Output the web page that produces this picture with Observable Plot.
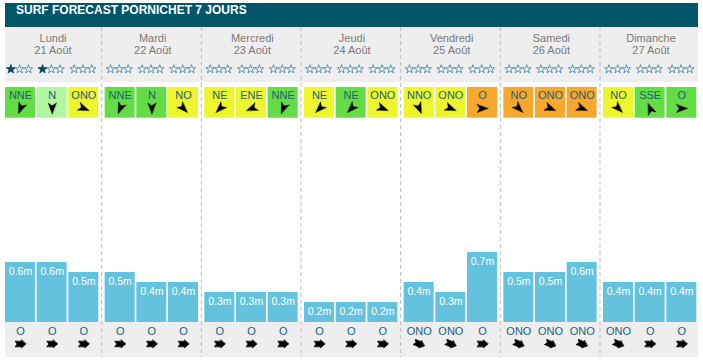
<!DOCTYPE html>
<html>
<head>
<meta charset="utf-8">
<script src="https://cdn.jsdelivr.net/npm/d3@7"></script>
<script src="https://cdn.jsdelivr.net/npm/@observablehq/plot@0.6"></script>
<style>
  html, body { margin: 0; padding: 0; background: #fff; }
  #title {
    margin: 3px 5px 0 5px; height: 24px; line-height: 24px;
    background: #03556b; color: #fff; padding-left: 11px;
    font: bold 12px "Liberation Sans", Arial, sans-serif;
  }
  #chart svg { display: block; }
</style>
</head>
<body>
<div id="title">SURF FORECAST PORNICHET 7 JOURS</div>
<div id="chart"></div>
<script>
const days = ["Lundi", "Mardi", "Mercredi", "Jeudi", "Vendredi", "Samedi", "Dimanche"];
const dates = ["21 Août", "22 Août", "23 Août", "24 Août", "25 Août", "26 Août", "27 Août"];
const starRatings = [1, 1, 0, 0, 0, 0, 0, 0, 0, 0, 0, 0, 0, 0, 0, 0, 0, 0, 0, 0, 0];
const windDirections = ["NNE", "N", "ONO", "NNE", "N", "NO", "NE", "ENE", "NNE", "NE", "NE", "ONO",
  "NNO", "ONO", "O", "NO", "ONO", "ONO", "NO", "SSE", "O"];
const windQuality = ["vert", "vertclair", "jaune", "vert", "vert", "jaune", "jaune", "jaune", "vert",
  "jaune", "vert", "jaune", "jaune", "jaune", "orange", "orange", "orange", "orange", "jaune", "vert", "vert"];
const waveHeights = [0.6, 0.6, 0.5, 0.5, 0.4, 0.4, 0.3, 0.3, 0.3, 0.2, 0.2, 0.2,
  0.4, 0.3, 0.7, 0.5, 0.5, 0.6, 0.4, 0.4, 0.4];
const swellDirections = ["O", "O", "O", "O", "O", "O", "O", "O", "O", "O", "O", "O",
  "ONO", "ONO", "O", "ONO", "ONO", "ONO", "ONO", "O", "O"];

const compass = ["N", "NNE", "NE", "ENE", "E", "ESE", "SE", "SSE", "S", "SSO", "SO", "OSO", "O", "ONO", "NO", "NNO"];
const deg = (c) => compass.indexOf(c) * 22.5;

const slots = waveHeights.map((h, i) => ({
  day: days[Math.floor(i / 3)],
  slot: i % 3,
  h,
  stars: starRatings[i],
  wind: windDirections[i],
  quality: windQuality[i],
  swell: swellDirections[i]
}));

const navArrow = {
  draw(ctx, l) {
    ctx.moveTo(0, -l);
    ctx.lineTo(0.37 * l, 0);
    ctx.lineTo(0, -0.25 * l);
    ctx.lineTo(-0.37 * l, 0);
    ctx.closePath();
  }
};
const swellArrow = {
  draw(ctx, l) {
    const hw = 0.36 * l, bw = 0.26 * l, hl = 0.42 * l, n = 0.18 * l;
    ctx.moveTo(0, -l);
    ctx.lineTo(hw, -l + hl);
    ctx.lineTo(bw, -l + hl);
    ctx.lineTo(bw, 0);
    ctx.lineTo(0, -n);
    ctx.lineTo(-bw, 0);
    ctx.lineTo(-bw, -l + hl);
    ctx.lineTo(-hw, -l + hl);
    ctx.closePath();
  }
};

const H = 335;
const xc = (d) => d.slot + 0.5;
const starOffsets = [-10.5, -1.7, 7.1];

const starMarks = [];
starOffsets.forEach((off, k) => {
  starMarks.push(Plot.dot(slots, { fx: "day", x: xc, frameAnchor: "top", dy: 41.7, dx: off, symbol: "star", r: 2.7, fill: "white", stroke: "#3a7c9c", strokeWidth: 0.8 }));
  starMarks.push(Plot.dot(slots.filter((d) => d.stars > k), { fx: "day", x: xc, frameAnchor: "top", dy: 41.7, dx: off, symbol: "star", r: 2.7, fill: "#0b4764", stroke: "#0b4764", strokeWidth: 0.8 }));
});

const chart = Plot.plot({
  width: 703,
  height: H,
  marginLeft: 5, marginRight: 5, marginTop: 0, marginBottom: 0,
  style: { fontFamily: "'Liberation Sans', Arial, sans-serif", background: "transparent" },
  fx: { domain: days, paddingInner: 0.0468, paddingOuter: 0, round: false, axis: null },
  x: { domain: [0, 3], axis: null },
  y: { domain: [0, 2.95], range: [295, 0], axis: null },
  color: { domain: ["vert", "vertclair", "jaune", "orange"], range: ["#63dc45", "#b0f7a0", "#edf52c", "#f6a82e"] },
  marks: [
    Plot.rect([null], { facet: "super", fill: "#eeeeee", insetBottom: H - 55 }),
    Plot.rect([null], { facet: "super", fill: "#eeeeee", insetTop: 295, insetBottom: 5 }),
    Plot.ruleX(days.slice(1), { fx: (d) => d, x: () => 0, dx: -3.5, stroke: "#bbbbbb", strokeDasharray: "4,3", insetBottom: 5 }),
    Plot.text(days, { fx: (d) => d, text: (d) => d, frameAnchor: "top", lineAnchor: "middle", dy: 10.8, fill: "#7a7a7a", fontSize: 11 }),
    Plot.text(dates, { fx: (d, i) => days[i], text: (d) => d, frameAnchor: "top", lineAnchor: "middle", dy: 23, fill: "#7a7a7a", fontSize: 11 }),
    ...starMarks,
    Plot.rect(slots, { fx: "day", x1: "slot", x2: (d) => d.slot + 1, insetRight: 1.67, insetTop: 60, insetBottom: H - 90.7, fill: "quality" }),
    Plot.text(slots, { fx: "day", x: xc, dx: -0.8, text: "wind", frameAnchor: "top", lineAnchor: "middle", dy: 68, fill: "#1d5f79", fontSize: 11 }),
    Plot.vector(slots, { fx: "day", x: xc, dx: -0.8, frameAnchor: "top", dy: 81, rotate: (d) => deg(d.wind) + 180, length: 11, anchor: "middle", shape: navArrow, fill: "black", stroke: "black", strokeWidth: 0.4 }),
    Plot.rectY(slots, { fx: "day", x1: "slot", x2: (d) => d.slot + 1, y: "h", insetRight: 1.67, fill: "#63c3de" }),
    Plot.text(slots, { fx: "day", x: xc, dx: -0.8, y: "h", dy: 9, text: (d) => d.h + "m", fill: "white", fontSize: 10.5 }),
    Plot.text(slots, { fx: "day", x: xc, dx: -0.8, text: "swell", frameAnchor: "top", lineAnchor: "middle", dy: 303.5, fill: "#1d5f79", fontSize: 11 }),
    Plot.vector(slots, { fx: "day", x: xc, dx: -0.8, frameAnchor: "top", dy: 316.5, rotate: (d) => deg(d.swell) + 180, length: 11, anchor: "middle", shape: swellArrow, fill: "black", stroke: "black", strokeWidth: 0.6 })
  ]
});
document.getElementById("chart").appendChild(chart);
</script>
</body>
</html>
